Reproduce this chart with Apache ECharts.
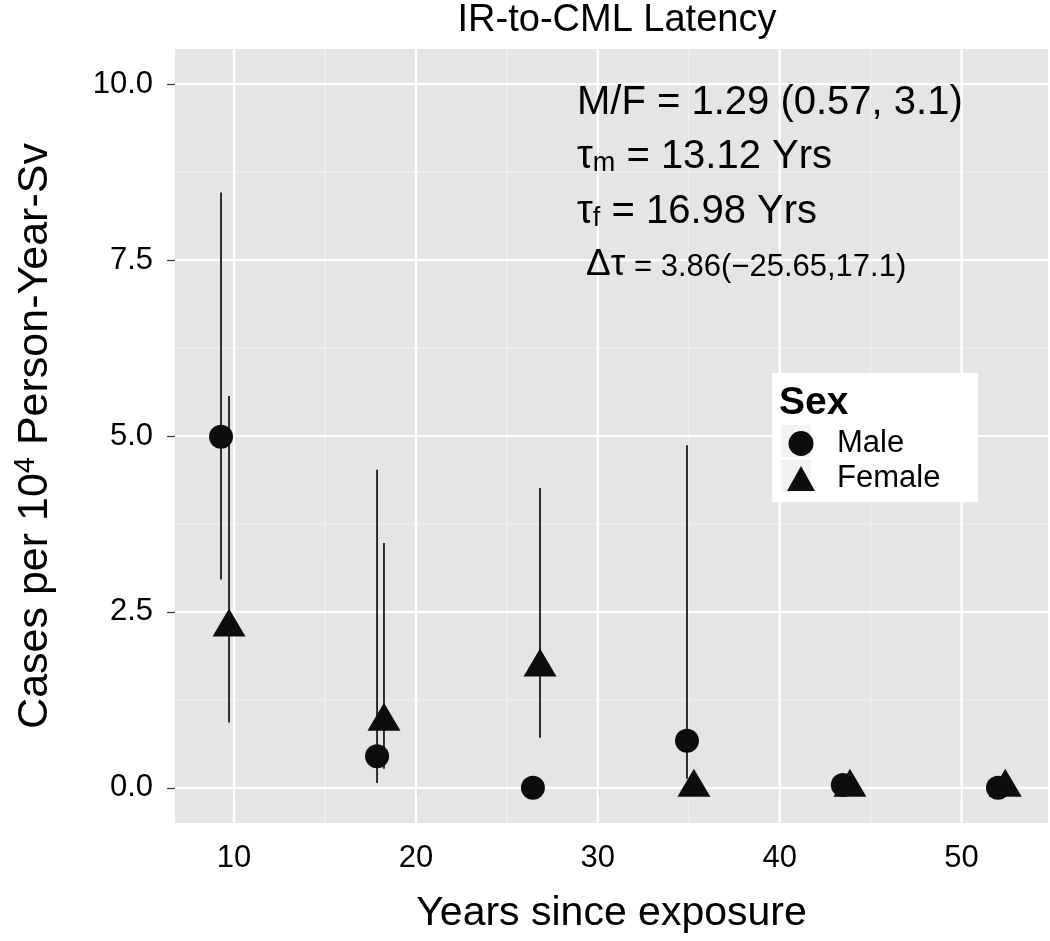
<!DOCTYPE html>
<html><head><meta charset="utf-8">
<script src="https://cdn.jsdelivr.net/npm/echarts@6/dist/echarts.min.js"></script>
<style>html,body{margin:0;padding:0;background:#fff}#chart{width:1050px;height:941px}</style>
</head><body><div id="chart"></div>
<script>
// ---- data ----
const maleYears   = [9.28, 17.86, 26.43, 34.90, 43.47, 52.00];
const maleRates   = [4.99, 0.45, 0.00, 0.67, 0.04, 0.00];
const maleLower   = [2.96, 0.07, 0.00, 0.13, 0.04, 0.00];
const maleUpper   = [8.46, 4.52, 0.00, 4.87, 0.04, 0.00];
const femaleYears = [9.72, 18.24, 26.82, 35.28, 43.86, 52.40];
const femaleRates = [2.28, 0.94, 1.71, 0.00, 0.00, 0.00];
const femaleLower = [0.93, 0.27, 0.71, 0.00, 0.00, 0.00];
const femaleUpper = [5.57, 3.48, 4.26, 0.00, 0.00, 0.00];
const xTicks      = [10, 20, 30, 40, 50];
const xMinorTicks = [15, 25, 35, 45];
const yTicks      = [0, 2.5, 5, 7.5, 10];
const yMinorTicks = [1.25, 3.75, 6.25, 8.75];
const seriesNames = ['Male', 'Female'];

const X_MIN = 6.75, X_MAX = 54.75, Y_MIN = -0.5, Y_MAX = 10.5;
const FONT = '"Liberation Sans", Arial, Helvetica, sans-serif';

function gridSeries(values, vertical, color, width) {
  return {
    type: 'custom', silent: true, z: 1,
    data: values.map(v => vertical ? [v, Y_MIN] : [X_MIN, v]),
    renderItem: (params, api) => {
      let p1, p2;
      if (vertical) { const v = api.value(0); p1 = api.coord([v, Y_MIN]); p2 = api.coord([v, Y_MAX]); }
      else { const v = api.value(1); p1 = api.coord([X_MIN, v]); p2 = api.coord([X_MAX, v]); }
      return { type: 'line', shape: { x1: p1[0], y1: p1[1], x2: p2[0], y2: p2[1] },
               style: { stroke: color, lineWidth: width } };
    }
  };
}
function errorSeries(xs, lo, hi) {
  return {
    type: 'custom', silent: true, z: 3,
    data: xs.map((x, i) => [x, lo[i], hi[i]]),
    renderItem: (params, api) => {
      const a = api.coord([api.value(0), api.value(1)]);
      const b = api.coord([api.value(0), api.value(2)]);
      return { type: 'line', shape: { x1: a[0], y1: a[1], x2: b[0], y2: b[1] },
               style: { stroke: '#000', lineWidth: 1.6 } };
    }
  };
}

const chart = echarts.init(document.getElementById('chart'));
chart.setOption({
  backgroundColor: '#ffffff',
  animation: false,
  textStyle: { fontFamily: FONT },
  title: {
    text: 'IR-to-CML Latency', left: 612, top: -3, textAlign: 'center',
    textStyle: { fontFamily: FONT, fontSize: 38, fontWeight: 'normal', color: '#000' }
  },
  grid: { left: 175, right: 2, top: 49, bottom: 118, show: true,
          backgroundColor: '#E5E5E5', borderWidth: 0 },
  xAxis: {
    type: 'value', min: X_MIN, max: X_MAX,
    name: 'Years since exposure', nameLocation: 'middle', nameGap: 70,
    nameTextStyle: { fontFamily: FONT, fontSize: 41, color: '#000' },
    axisLine: { show: false },
    axisTick: { show: true, length: 8, customValues: xTicks, lineStyle: { color: '#333', width: 1.2 } },
    axisLabel: { customValues: xTicks, margin: 20, fontSize: 31, color: '#000', fontFamily: FONT,
                 formatter: v => String(v) },
    splitLine: { show: false }
  },
  yAxis: {
    type: 'value', min: Y_MIN, max: Y_MAX,
    name: '{a|Cases per 10}{s|4}{a| Person-Year-Sv}', nameLocation: 'middle', nameGap: 116, nameRotate: 90,
    nameTextStyle: { fontFamily: FONT, color: '#000',
      rich: { a: { fontSize: 43, fontFamily: FONT, color: '#000', lineHeight: 48 },
              s: { fontSize: 29, fontFamily: FONT, color: '#000', verticalAlign: 'top', lineHeight: 48, padding: [0, 0, 14, 0] } } },
    axisLine: { show: false },
    axisTick: { show: true, length: 8, customValues: yTicks, lineStyle: { color: '#333', width: 1.2 } },
    axisLabel: { customValues: yTicks, margin: 22, fontSize: 31, color: '#000', fontFamily: FONT,
                 formatter: v => Number(v).toFixed(1) },
    splitLine: { show: false }
  },
  legend: {
    orient: 'vertical', left: 782, top: 423, itemWidth: 28, itemHeight: 25, itemGap: 4,
    selectedMode: false, data: seriesNames,
    textStyle: { fontFamily: FONT, fontSize: 31, color: '#000', padding: [0, 0, 0, 17] }
  },
  graphic: [
    { type: 'rect', z: 3, shape: { x: 772, y: 373, width: 206, height: 129 }, style: { fill: '#ffffff' } },
    { type: 'rect', z: 3, shape: { x: 781, y: 425, width: 30, height: 32 }, style: { fill: '#F2F2F2' } },
    { type: 'rect', z: 3, shape: { x: 781, y: 460, width: 30, height: 32 }, style: { fill: '#F2F2F2' } },
    { type: 'text', z: 5, x: 779, y: 403, style: { text: 'Sex', font: 'bold 39px ' + FONT, fill: '#000', textVerticalAlign: 'middle' } },
    { type: 'text', z: 5, x: 577, y: 103, style: { text: 'M/F = 1.29 (0.57, 3.1)', font: '40px ' + FONT, fill: '#000', textVerticalAlign: 'middle' } },
    { type: 'text', z: 5, x: 577, y: 157, style: {
        text: '{m|τ}{s|m}{m| = 13.12 Yrs}', textVerticalAlign: 'middle',
        rich: { m: { fontSize: 40, fontFamily: FONT, fill: '#000', lineHeight: 40 },
                s: { fontSize: 27, fontFamily: FONT, fill: '#000', lineHeight: 18, verticalAlign: 'bottom' } } } },
    { type: 'text', z: 5, x: 577, y: 212, style: {
        text: '{m|τ}{s|f}{m| = 16.98 Yrs}', textVerticalAlign: 'middle',
        rich: { m: { fontSize: 40, fontFamily: FONT, fill: '#000', lineHeight: 40 },
                s: { fontSize: 27, fontFamily: FONT, fill: '#000', lineHeight: 18, verticalAlign: 'bottom' } } } },
    { type: 'text', z: 5, x: 586, y: 265, style: {
        text: '{d|Δτ}{r| = 3.86(−25.65,17.1)}', textVerticalAlign: 'middle',
        rich: { d: { fontSize: 37, fontFamily: FONT, fill: '#000', lineHeight: 36, verticalAlign: 'bottom' },
                r: { fontSize: 31, fontFamily: FONT, fill: '#000', lineHeight: 31, verticalAlign: 'bottom' } } } }
  ],
  series: [
    gridSeries(xMinorTicks, true, '#F2F2F2', 1),
    gridSeries(yMinorTicks, false, '#F2F2F2', 1),
    gridSeries(xTicks, true, '#FFFFFF', 2.2),
    gridSeries(yTicks, false, '#FFFFFF', 2.2),
    errorSeries(maleYears, maleLower, maleUpper),
    errorSeries(femaleYears, femaleLower, femaleUpper),
    { name: 'Male', type: 'scatter', z: 5, symbol: 'circle', symbolSize: 24, symbolKeepAspect: true,
      itemStyle: { color: '#0d0d0d', opacity: 1 },
      data: maleYears.map((x, i) => [x, maleRates[i]]) },
    { name: 'Female', type: 'scatter', z: 5, symbol: 'triangle', symbolSize: [33, 28], symbolOffset: [0, -5],
      itemStyle: { color: '#0d0d0d', opacity: 1 },
      data: femaleYears.map((x, i) => [x, femaleRates[i]]) }
  ]
});
</script></body></html>
